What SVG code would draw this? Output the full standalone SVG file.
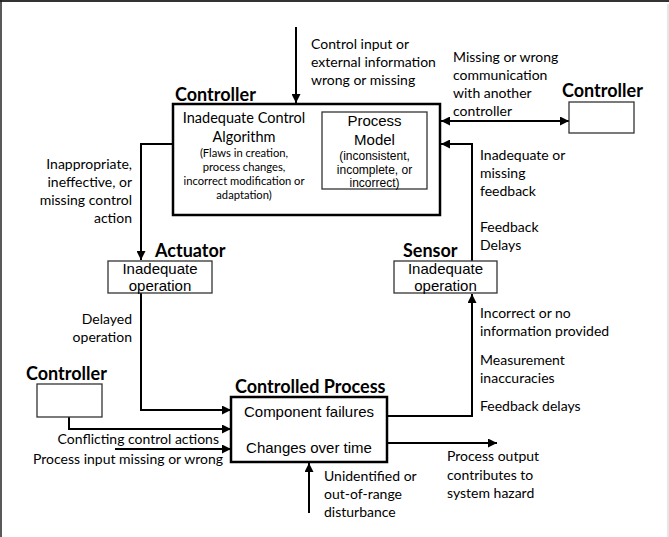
<svg xmlns="http://www.w3.org/2000/svg" width="669" height="537" viewBox="0 0 669 537">
<defs>
<marker id="ah" viewBox="0 0 10 10" refX="10" refY="5" markerWidth="9" markerHeight="9" markerUnits="userSpaceOnUse" orient="auto-start-reverse">
<path d="M0,0 L10,5 L0,10 z" fill="#000"/>
</marker>
<style>
.lbl{font-family:Lato,"Liberation Sans",sans-serif;font-size:14px;fill:#000}
.hdr{font-family:Lato,"Liberation Sans",sans-serif;font-weight:bold;font-size:18px;fill:#000}
.cal{font-family:Lato,"Liberation Sans",sans-serif;font-size:14.5px;fill:#000}
.cals{font-family:Lato,"Liberation Sans",sans-serif;font-size:11.2px;fill:#000}
.ar{font-family:"Liberation Sans",Arial,sans-serif;font-size:15px;fill:#000}
.ars{font-family:"Liberation Sans",Arial,sans-serif;font-size:12px;fill:#000}
.big{fill:#fff;stroke:#000;stroke-width:2.5}
.sm{fill:#fff;stroke:#333;stroke-width:1.3}
.con{fill:none;stroke:#000;stroke-width:2}
</style>
</defs>
<rect x="0" y="0" width="669" height="537" fill="#fff"/>
<line x1="0" y1="1" x2="669" y2="1" stroke="#333" stroke-width="2"/>
<line x1="1" y1="0" x2="1" y2="537" stroke="#222" stroke-width="1.5"/>
<line x1="668" y1="4" x2="668" y2="537" stroke="#ccc" stroke-width="1"/>

<g id="connectors">
<line class="con" x1="296" y1="27" x2="296" y2="103" marker-end="url(#ah)"/>
<line class="con" x1="441" y1="121" x2="569" y2="121" marker-start="url(#ah)" marker-end="url(#ah)"/>
<path class="con" d="M173,144 H141 V260" marker-end="url(#ah)"/>
<path class="con" d="M472,261 V144 H441" marker-end="url(#ah)"/>
<path class="con" d="M141,293 V410 H231" marker-end="url(#ah)"/>
<path class="con" d="M387,416 H472 V294" marker-end="url(#ah)"/>
<path class="con" d="M69,417 V429 H231" marker-end="url(#ah)"/>
<line class="con" x1="115" y1="449" x2="231" y2="449" marker-end="url(#ah)"/>
<line class="con" x1="387" y1="443" x2="497" y2="443" marker-end="url(#ah)"/>
<line class="con" x1="309" y1="513" x2="309" y2="463" marker-end="url(#ah)"/>
</g>

<g id="labels">
<text class="lbl" x="311" y="49">Control input or</text>
<text class="lbl" x="311" y="67">external information</text>
<text class="lbl" x="311" y="85">wrong or missing</text>
<text class="lbl" x="453" y="62">Missing or wrong</text>
<text class="lbl" x="453" y="80">communication</text>
<text class="lbl" x="453" y="98">with another</text>
<text class="lbl" x="453" y="116">controller</text>
<text class="lbl" x="132" y="169" text-anchor="end">Inappropriate,</text>
<text class="lbl" x="132" y="187" text-anchor="end">ineffective, or</text>
<text class="lbl" x="132" y="205" text-anchor="end">missing control</text>
<text class="lbl" x="132" y="223" text-anchor="end">action</text>
<text class="lbl" x="480" y="160">Inadequate or</text>
<text class="lbl" x="480" y="178">missing</text>
<text class="lbl" x="480" y="196">feedback</text>
<text class="lbl" x="480" y="232">Feedback</text>
<text class="lbl" x="480" y="250">Delays</text>
<text class="lbl" x="132" y="324" text-anchor="end">Delayed</text>
<text class="lbl" x="132" y="342" text-anchor="end">operation</text>
<text class="lbl" x="480" y="318">Incorrect or no</text>
<text class="lbl" x="480" y="336">information provided</text>
<text class="lbl" x="480" y="365">Measurement</text>
<text class="lbl" x="480" y="383">inaccuracies</text>
<text class="lbl" x="480" y="411">Feedback delays</text>
<text class="lbl" x="219" y="444" text-anchor="end">Conflicting control actions</text>
<text class="lbl" x="223" y="464" text-anchor="end">Process input missing or wrong</text>
<text class="lbl" x="447" y="461">Process output</text>
<text class="lbl" x="447" y="480">contributes to</text>
<text class="lbl" x="447" y="498">system hazard</text>
<text class="lbl" x="324" y="481">Unidentified or</text>
<text class="lbl" x="324" y="499">out-of-range</text>
<text class="lbl" x="324" y="517">disturbance</text>
</g>

<g id="controller">
<text class="hdr" x="175" y="101">Controller</text>
<rect class="big" x="173" y="104" width="267" height="111"/>
<text class="cal" x="244" y="123" text-anchor="middle">Inadequate Control</text>
<text class="cal" x="244" y="142" text-anchor="middle">Algorithm</text>
<text class="cals" x="244" y="157" text-anchor="middle">(Flaws in creation,</text>
<text class="cals" x="244" y="171" text-anchor="middle">process changes,</text>
<text class="cals" x="244" y="185" text-anchor="middle">incorrect modification or</text>
<text class="cals" x="244" y="199" text-anchor="middle">adaptation)</text>
</g>

<g id="process-model">
<rect class="sm" x="322" y="112" width="105" height="77"/>
<text class="ar" x="374.5" y="126" text-anchor="middle">Process</text>
<text class="ar" x="374.5" y="145" text-anchor="middle">Model</text>
<text class="ars" x="374.5" y="160" text-anchor="middle">(inconsistent,</text>
<text class="ars" x="374.5" y="174" text-anchor="middle">incomplete, or</text>
<text class="ars" x="374.5" y="187" text-anchor="middle">incorrect)</text>
</g>

<g id="controller-right">
<text class="hdr" x="562" y="97">Controller</text>
<rect class="sm" x="569" y="102" width="65" height="31"/>
</g>

<g id="actuator">
<text class="hdr" x="155" y="257">Actuator</text>
<rect class="sm" x="108" y="261" width="104" height="32"/>
<text class="ar" x="160" y="274" text-anchor="middle">Inadequate</text>
<text class="ar" x="160" y="291" text-anchor="middle">operation</text>
</g>

<g id="sensor">
<text class="hdr" x="403" y="257">Sensor</text>
<rect class="sm" x="394" y="261" width="103" height="32"/>
<text class="ar" x="445.5" y="274" text-anchor="middle">Inadequate</text>
<text class="ar" x="445.5" y="291" text-anchor="middle">operation</text>
</g>

<g id="controlled-process">
<text class="hdr" x="235" y="393">Controlled Process</text>
<rect class="big" x="231" y="397" width="156" height="65"/>
<text class="ar" x="309" y="417" text-anchor="middle">Component failures</text>
<text class="ar" x="309" y="453" text-anchor="middle">Changes over time</text>
</g>

<g id="controller-left">
<text class="hdr" x="26" y="380">Controller</text>
<rect class="sm" x="37" y="384" width="65" height="33"/>
</g>
</svg>
